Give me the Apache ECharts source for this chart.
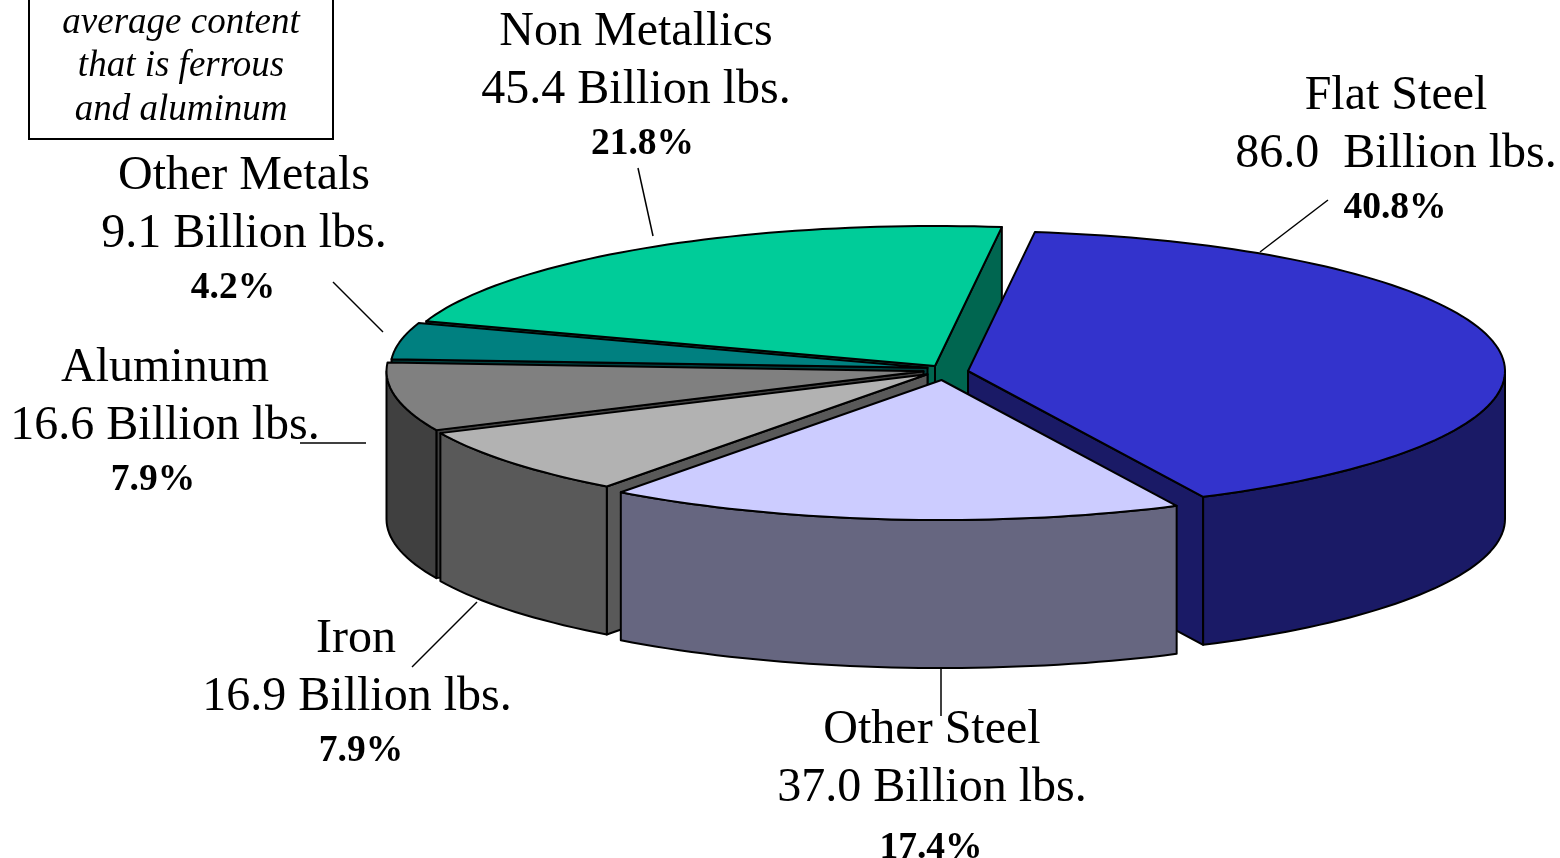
<!DOCTYPE html>
<html>
<head>
<meta charset="utf-8">
<title>Vehicle material content</title>
<style>html,body{margin:0;padding:0;background:#fff}#chart{width:1560px;height:858px}</style>
<script src="https://cdn.jsdelivr.net/npm/echarts@6/dist/echarts.min.js"></script>
</head>
<body>
<div id="chart"></div>
<script>
// Values, clockwise from the top of the pie
const materials = ['Flat Steel', 'Other Steel', 'Iron', 'Aluminum', 'Other Metals', 'Non Metallics'];
const amountLabels = ['86.0  Billion lbs.', '37.0 Billion lbs.', '16.9 Billion lbs.', '16.6 Billion lbs.', '9.1 Billion lbs.', '45.4 Billion lbs.'];
const shares = [40.8, 17.4, 7.9, 7.9, 4.2, 21.8];
const noteLines = ['average content', 'that is ferrous', 'and aluminum'];

// Pie projection
const centre = [930, 370];
const radiusX = 537;
const radiusY = 140;
const depth = 148;
const firstAngle = 82.85;
const explode = [[38, 1], [11.5, 10], [-2.5, 4.2], [-6.5, 1.2], [-2.5, -2.2], [5, -4]];

// Back-to-front painting order for each slice
const paintRank = [4, 5, 3, 2, 1, 0];

// Colours
const topColours = ['#3333CC', '#CCCCFF', '#B2B2B2', '#808080', '#008080', '#00CC99'];
const sideColours = ['#1A1A66', '#666680', '#595959', '#404040', '#004040', '#006650'];

// Label placement: centre x and middle y for the name, amount and percent lines
const labelSpots = [
  [[1396, 96], [1396, 154], [1395, 208]],
  [[932, 730], [932, 788], [931, 848]],
  [[356, 639], [357, 697], [361, 751]],
  [[165, 368], [165, 426], [153, 480]],
  [[244, 176], [244, 234], [233, 288]],
  [[636, 32], [636, 90], [642.5, 144]]
];
const leaderLines = [
  [1328, 200, 1260, 252],
  [941, 668, 941, 716],
  [477, 602, 412, 667],
  [300, 443, 366, 443],
  [333, 282, 383, 332],
  [638, 168, 653, 236]
];

const SERIF = '"Liberation Serif", "Times New Roman", serif';

function rimPoint(c, deg, drop) {
  const t = deg * Math.PI / 180;
  return [c[0] + radiusX * Math.cos(t), c[1] - radiusY * Math.sin(t) + drop];
}

function arcPoints(c, from, to, drop) {
  const pts = [];
  const steps = Math.max(2, Math.ceil(Math.abs(from - to) / 1.5));
  for (let i = 0; i <= steps; i++) {
    pts.push(rimPoint(c, from + (to - from) * i / steps, drop));
  }
  return pts;
}

function renderSlice(params, api) {
  const i = params.dataIndex;
  let swept = 0;
  for (let k = 0; k < i; k++) swept += api.value(0, k);
  const hi = firstAngle - swept * 3.6;
  const lo = hi - api.value(0) * 3.6;
  const c = [centre[0] + explode[i][0], centre[1] + explode[i][1]];
  const rank = paintRank[i] * 10;
  const edge = { stroke: '#000', lineWidth: 2, lineJoin: 'round' };
  const children = [];
  const add = (pts, fill, z) => children.push({
    type: 'polygon', z2: rank + z,
    shape: { points: pts },
    style: Object.assign({ fill: fill }, edge)
  });
  const wall = (deg, z) => {
    const rim = rimPoint(c, deg, 0);
    add([c, rim, [rim[0], rim[1] + depth], [c[0], c[1] + depth]], sideColours[i], z);
  };
  // Cut faces turned towards the viewer
  if (Math.cos(lo * Math.PI / 180) > 0) wall(lo, 0);
  if (Math.cos(hi * Math.PI / 180) < 0) wall(hi, 1);
  // Outer rim on the near half of the ellipse
  const from = Math.min(hi, 0);
  const to = Math.max(lo, -180);
  if (from > to) {
    add(arcPoints(c, from, to, 0).concat(arcPoints(c, to, from, depth)), sideColours[i], 2);
  }
  // Top face
  add([c].concat(arcPoints(c, hi, lo, 0)), topColours[i], 3);
  return { type: 'group', children: children };
}

const graphics = [];
function addText(text, pos, font, weight, style, z) {
  graphics.push({
    type: 'text', x: pos[0], y: pos[1], z: z || 10,
    style: {
      text: text, fill: '#000', align: 'center', verticalAlign: 'middle',
      font: (style || 'normal') + ' ' + weight + ' ' + font + 'px ' + SERIF
    }
  });
}
materials.forEach((name, i) => {
  addText(name, labelSpots[i][0], 48, 'normal');
  addText(amountLabels[i], labelSpots[i][1], 48, 'normal');
  addText(shares[i].toFixed(1) + '%', labelSpots[i][2], 37.5, 'bold');
  const l = leaderLines[i];
  graphics.push({
    type: 'line', z: 9,
    shape: { x1: l[0], y1: l[1], x2: l[2], y2: l[3] },
    style: { stroke: '#000', lineWidth: 1.5 }
  });
});
graphics.push({
  type: 'rect', z: 8,
  shape: { x: 29, y: -10, width: 304, height: 149 },
  style: { fill: '#fff', stroke: '#000', lineWidth: 2 }
});
noteLines.forEach((line, i) => {
  addText(line, [181, [23, 66, 110][i]], 37, 'normal', 'italic');
});

const chart = echarts.init(document.getElementById('chart'), null, { renderer: 'canvas' });
chart.setOption({
  animation: false,
  backgroundColor: '#fff',
  series: [{
    type: 'custom',
    coordinateSystem: 'none',
    silent: true,
    renderItem: renderSlice,
    data: shares.map((s, i) => ({ name: materials[i], value: [s] }))
  }],
  graphic: { elements: graphics }
});
</script>
</body>
</html>
